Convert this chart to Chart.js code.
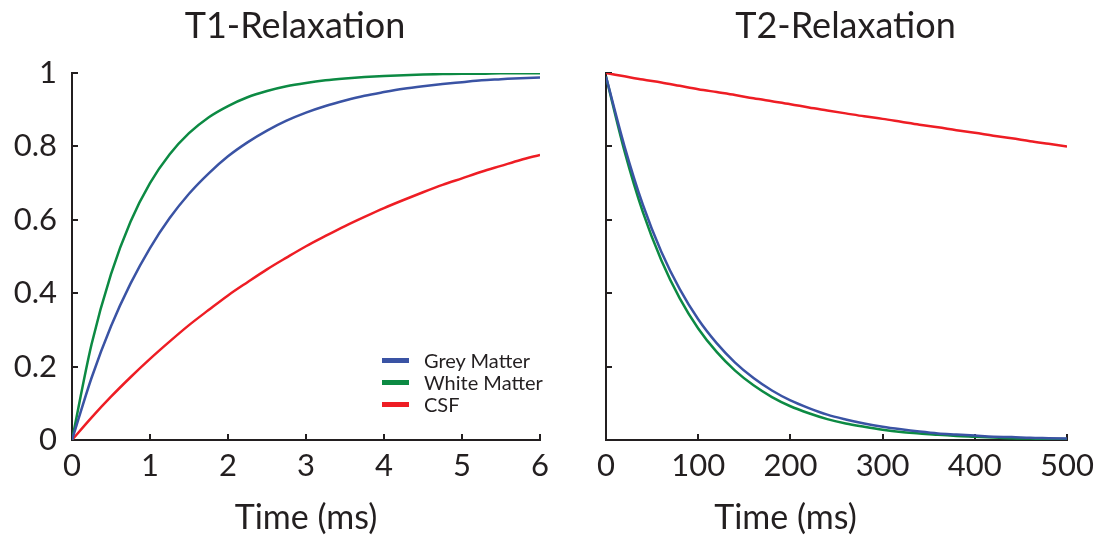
<!DOCTYPE html>
<html>
<head>
<meta charset="utf-8">
<script src="https://cdn.jsdelivr.net/npm/chart.js@4"></script>
<style>
html,body{margin:0;padding:0;background:#fff;overflow:hidden;}
#wrap{position:relative;width:1107px;height:542px;font-family:Lato,sans-serif;color:#231f20;}
canvas{position:absolute;top:0;}
#c1{left:0;}
#c2{left:584px;}
#legend{position:absolute;left:382px;top:349px;}
.row{display:flex;align-items:center;height:22px;font-size:20px;line-height:22px;white-space:nowrap;}
.sw{width:27px;height:5px;margin-right:15px;flex:none;}
#xt2{position:absolute;left:685px;width:201px;top:496px;text-align:center;font-size:34px;line-height:40px;white-space:nowrap;}
</style>
</head>
<body>
<div id="wrap">
  <canvas id="c1" width="590" height="542"></canvas>
  <canvas id="c2" width="523" height="542"></canvas>
  <div id="legend"></div>
  <div id="xt2"></div>
</div>
<script>
// ---- data ----
const seriesNames = ['Grey Matter', 'White Matter', 'CSF'];
const seriesColors = ['#3a53a4', '#0c8a43', '#ee1d24'];
const xAxisTitle = 'Time (ms)';
const panelTitles = ['T1-Relaxation', 'T2-Relaxation'];

const t1Time = [0,0.25,0.5,0.75,1,1.25,1.5,1.75,2,2.25,2.5,2.75,3,3.25,3.5,3.75,4,4.25,4.5,4.75,5,5.25,5.5,5.75,6];
const t1Grey = [0,0.169,0.310,0.426,0.523,0.604,0.671,0.726,0.773,0.811,0.843,0.870,0.892,0.910,0.925,0.938,0.948,0.957,0.964,0.970,0.975,0.980,0.983,0.986,0.988];
const t1White = [0,0.260,0.452,0.595,0.700,0.778,0.836,0.879,0.910,0.934,0.951,0.964,0.973,0.980,0.985,0.989,0.992,0.994,0.996,0.997,0.998,0.998,0.999,0.999,0.999];
const t1Csf = [0,0.061,0.118,0.171,0.221,0.268,0.313,0.354,0.394,0.430,0.465,0.497,0.528,0.556,0.583,0.608,0.632,0.654,0.675,0.695,0.713,0.731,0.747,0.763,0.777];

const t2Time = [0,20,40,60,80,100,120,140,160,180,200,220,240,260,280,300,320,340,360,380,400,420,440,460,480,500];
const t2Grey = [0.99,0.801,0.641,0.513,0.411,0.329,0.264,0.211,0.169,0.135,0.108,0.087,0.069,0.056,0.045,0.036,0.029,0.023,0.018,0.015,0.012,0.009,0.008,0.006,0.005,0.004];
const t2White = [0.99,0.788,0.621,0.490,0.386,0.304,0.240,0.189,0.149,0.117,0.092,0.073,0.057,0.045,0.036,0.028,0.022,0.018,0.014,0.011,0.009,0.007,0.005,0.004,0.003,0.003];
const t2Csf = [1,0.991,0.982,0.974,0.965,0.956,0.948,0.940,0.931,0.923,0.915,0.906,0.898,0.890,0.882,0.875,0.867,0.859,0.852,0.844,0.837,0.829,0.822,0.814,0.807,0.800];

const t1XTicks = {min: 0, max: 6, step: 1};
const t2XTicks = {min: 0, max: 500, step: 100};
const yTicks = {min: 0, max: 1, step: 0.2};

// ---- styling ----
const TXT = '#231f20';
const FONT = 'Lato, "Open Sans", sans-serif';

function buildDatasets(times, seriesList) {
  return seriesList.map((vals, i) => ({
    label: seriesNames[i],
    data: vals.map((v, k) => ({x: times[k], y: v})),
    borderColor: seriesColors[i],
    backgroundColor: seriesColors[i],
    borderWidth: 2.5,
    pointRadius: 0,
    fill: false,
    cubicInterpolationMode: 'monotone'
  }));
}

function makeChart(id, title, times, seriesList, xt, yAxisWidth, rightGap, showYLabels, showXTitle) {
  const axisCommon = {
    grid: {drawOnChartArea: false, drawTicks: true, tickLength: -6, color: TXT, lineWidth: 2},
    border: {display: true, color: TXT, width: 2}
  };
  return new Chart(document.getElementById(id), {
    type: 'line',
    data: {datasets: buildDatasets(times, seriesList)},
    options: {
      responsive: false,
      animation: false,
      events: [],
      layout: {padding: 0},
      plugins: {
        legend: {display: false},
        tooltip: {enabled: false},
        title: {
          display: true, text: title, color: TXT,
          font: {family: FONT, size: 36, weight: 'normal'},
          padding: {top: 5, bottom: 24.8}
        }
      },
      scales: {
        x: Object.assign({}, axisCommon, {
          type: 'linear', min: xt.min, max: xt.max,
          ticks: {stepSize: xt.step, color: TXT, font: {family: FONT, size: 31}, padding: 13, maxRotation: 0, autoSkip: false},
          title: {display: showXTitle, text: xAxisTitle, color: TXT, font: {family: FONT, size: 34}, padding: {top: 0, bottom: 4}},
          afterFit: s => { s.height = 102; }
        }),
        y: Object.assign({}, axisCommon, {
          type: 'linear', min: yTicks.min, max: yTicks.max,
          ticks: {
            stepSize: yTicks.step, display: showYLabels, color: TXT,
            font: {family: FONT, size: 31}, padding: 21,
            callback: v => String(Number(v.toFixed(2)))
          },
          afterFit: s => { s.width = yAxisWidth; }
        }),
        gap: {
          type: 'linear', position: 'right', display: true,
          grid: {display: false}, border: {display: false}, ticks: {display: false},
          afterFit: s => { s.width = rightGap; }
        }
      }
    }
  });
}

makeChart('c1', panelTitles[0], t1Time, [t1Grey, t1White, t1Csf], t1XTicks, 72, 50, true, true);
makeChart('c2', panelTitles[1], t2Time, [t2Grey, t2White, t2Csf], t2XTicks, 15, 38, false, false);

// HTML legend (from series names / colours)
const lg = document.getElementById('legend');
seriesNames.forEach((n, i) => {
  const row = document.createElement('div');
  row.className = 'row';
  const sw = document.createElement('span');
  sw.className = 'sw';
  sw.style.background = seriesColors[i];
  const tx = document.createElement('span');
  tx.textContent = n;
  row.appendChild(sw);
  row.appendChild(tx);
  lg.appendChild(row);
});
document.getElementById('xt2').textContent = xAxisTitle;
</script>
</body>
</html>
